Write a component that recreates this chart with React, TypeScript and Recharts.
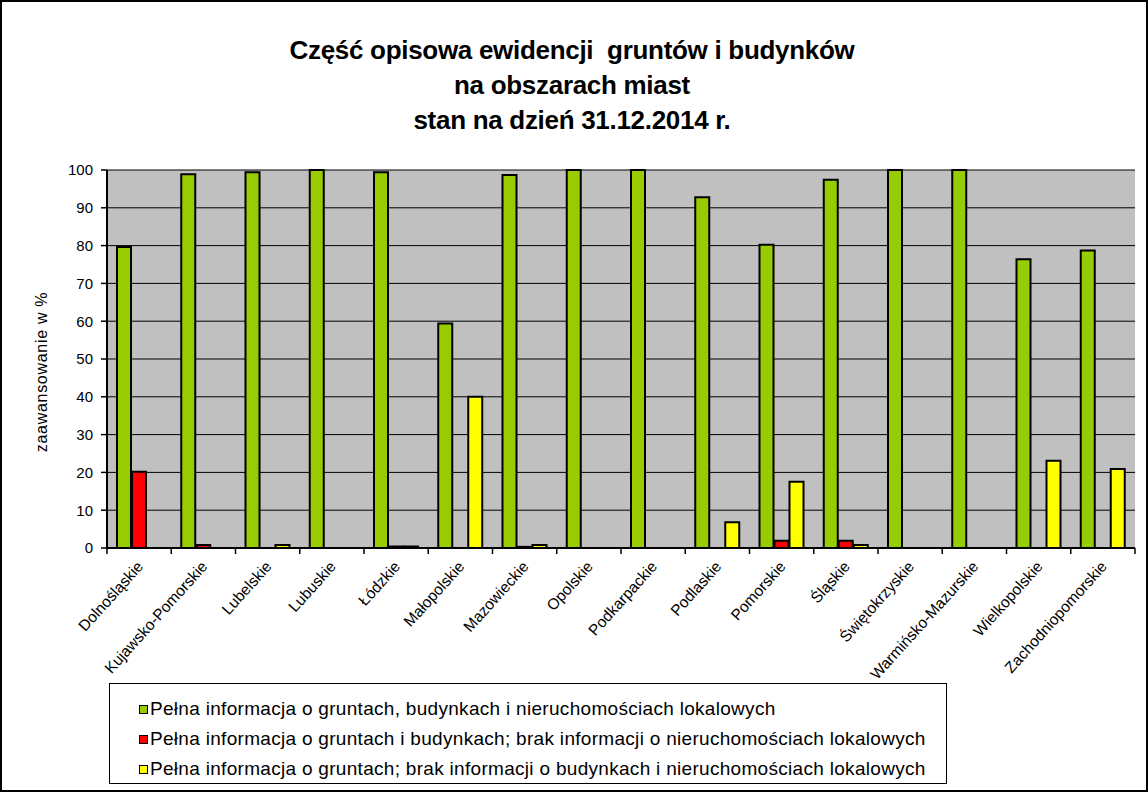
import React from 'react';
import { BarChart, Bar, XAxis, YAxis, CartesianGrid } from 'recharts';

const regions = [
  'Dolnośląskie', 'Kujawsko-Pomorskie', 'Lubelskie', 'Lubuskie', 'Łódzkie', 'Małopolskie',
  'Mazowieckie', 'Opolskie', 'Podkarpackie', 'Podlaskie', 'Pomorskie', 'Śląskie',
  'Świętokrzyskie', 'Warmińsko-Mazurskie', 'Wielkopolskie', 'Zachodniopomorskie'
];

const fullInfo = [79.6, 98.9, 99.4, 100, 99.4, 59.4, 98.7, 100, 100, 92.8, 80.2, 97.4, 100, 100, 76.4, 78.7];
const noLocalInfo = [20.2, 0.8, 0, 0, 0.4, 0, 0.3, 0, 0, 0, 1.9, 1.9, 0, 0, 0, 0];
const landOnlyInfo = [0, 0, 0.8, 0, 0.4, 40.0, 0.8, 0, 0, 6.8, 17.5, 0.8, 0, 0, 23.1, 20.9];

const yTicks = [0, 10, 20, 30, 40, 50, 60, 70, 80, 90, 100];

const series = [
  { key: 'full', color: '#99CC00', label: 'Pełna informacja o gruntach, budynkach i nieruchomościach lokalowych' },
  { key: 'noLocal', color: '#FF0000', label: 'Pełna informacja o gruntach i budynkach; brak informacji o nieruchomościach lokalowych' },
  { key: 'landOnly', color: '#FFFF00', label: 'Pełna informacja o gruntach; brak informacji o budynkach i nieruchomościach lokalowych' }
];

const data = regions.map((name, i) => ({
  name,
  full: fullInfo[i],
  noLocal: noLocalInfo[i],
  landOnly: landOnlyInfo[i]
}));

const FONT = 'Arial, "Liberation Sans", sans-serif';

// category label rotated, plus Excel-style tick marks on category boundaries
const RotatedTick = (props: any) => {
  const { x, y, payload, index, visibleTicksCount } = props;
  const half = payload && payload.offset ? payload.offset : 32;
  const top = y - 8;
  const ax = x + 5;
  const ay = y + 11;
  return (
    <g>
      <line x1={x - half} x2={x - half} y1={top} y2={top + 6} stroke="#000" strokeWidth={1.5} />
      {index === visibleTicksCount - 1 && (
        <line x1={x + half} x2={x + half} y1={top} y2={top + 6} stroke="#000" strokeWidth={1.5} />
      )}
      <text
        x={ax}
        y={ay}
        textAnchor="end"
        transform={`rotate(-48, ${ax}, ${ay})`}
        fontSize={15.5}
        fontFamily={FONT}
        fill="#000"
      >
        {payload.value}
      </text>
    </g>
  );
};

export default function App() {
  return (
    <div style={{ position: 'relative', width: 1148, height: 792, background: '#fff', fontFamily: FONT }}>
      <style>{'body{margin:0}'}</style>
      <div style={{ position: 'absolute', left: 0, top: 0, width: 1144, height: 788, border: '2px solid #000' }} />
      <div
        style={{
          position: 'absolute', left: 0, top: 33, width: 1144, textAlign: 'center',
          fontSize: 26, fontWeight: 'bold', lineHeight: '35px', letterSpacing: -0.3
        }}
      >
        <div>Część opisowa ewidencji&nbsp; gruntów i budynków</div>
        <div>na obszarach miast</div>
        <div>stan na dzień 31.12.2014 r.</div>
      </div>
      <div
        style={{
          position: 'absolute', left: 42, top: 372, transform: 'translate(-50%, -50%) rotate(-90deg)',
          whiteSpace: 'nowrap', fontSize: 16, letterSpacing: 0.7
        }}
      >
        zaawansowanie w %
      </div>
      <div style={{ position: 'absolute', left: 0, top: 0 }}>
        <BarChart
          width={1148}
          height={792}
          data={data}
          margin={{ top: 170, right: 13, left: 47, bottom: 110 }}
          barSize={14}
          barGap={1}
        >
          <CartesianGrid fill="#C0C0C0" stroke="#000" vertical={false} />
          <XAxis
            dataKey="name"
            interval={0}
            height={134}
            axisLine={{ stroke: '#000', strokeWidth: 2 }}
            tickLine={false}
            tick={<RotatedTick />}
          />
          <YAxis
            width={60}
            domain={[0, 100]}
            ticks={yTicks}
            tick={{ fontSize: 15, fill: '#000', fontFamily: FONT }}
            axisLine={{ stroke: '#000', strokeWidth: 2 }}
            tickLine={{ stroke: '#000', strokeWidth: 1.5 }}
            tickSize={6}
            tickMargin={8}
          />
          {series.map((s) => (
            <Bar
              key={s.key}
              dataKey={s.key}
              fill={s.color}
              stroke="#000"
              strokeWidth={2}
              isAnimationActive={false}
            />
          ))}
        </BarChart>
      </div>
      <div
        style={{
          position: 'absolute', left: 109, top: 683, width: 838, height: 101,
          border: '1px solid #000', boxSizing: 'border-box', padding: '10px 0 0 29px'
        }}
      >
        {series.map((s) => (
          <div
            key={s.key}
            style={{ display: 'flex', alignItems: 'center', height: 30, fontSize: 19, letterSpacing: 0.3 }}
          >
            <span
              style={{
                display: 'inline-block', width: 7, height: 7, background: s.color,
                border: '1.5px solid #000', marginRight: 2
              }}
            />
            <span>{s.label}</span>
          </div>
        ))}
      </div>
    </div>
  );
}
